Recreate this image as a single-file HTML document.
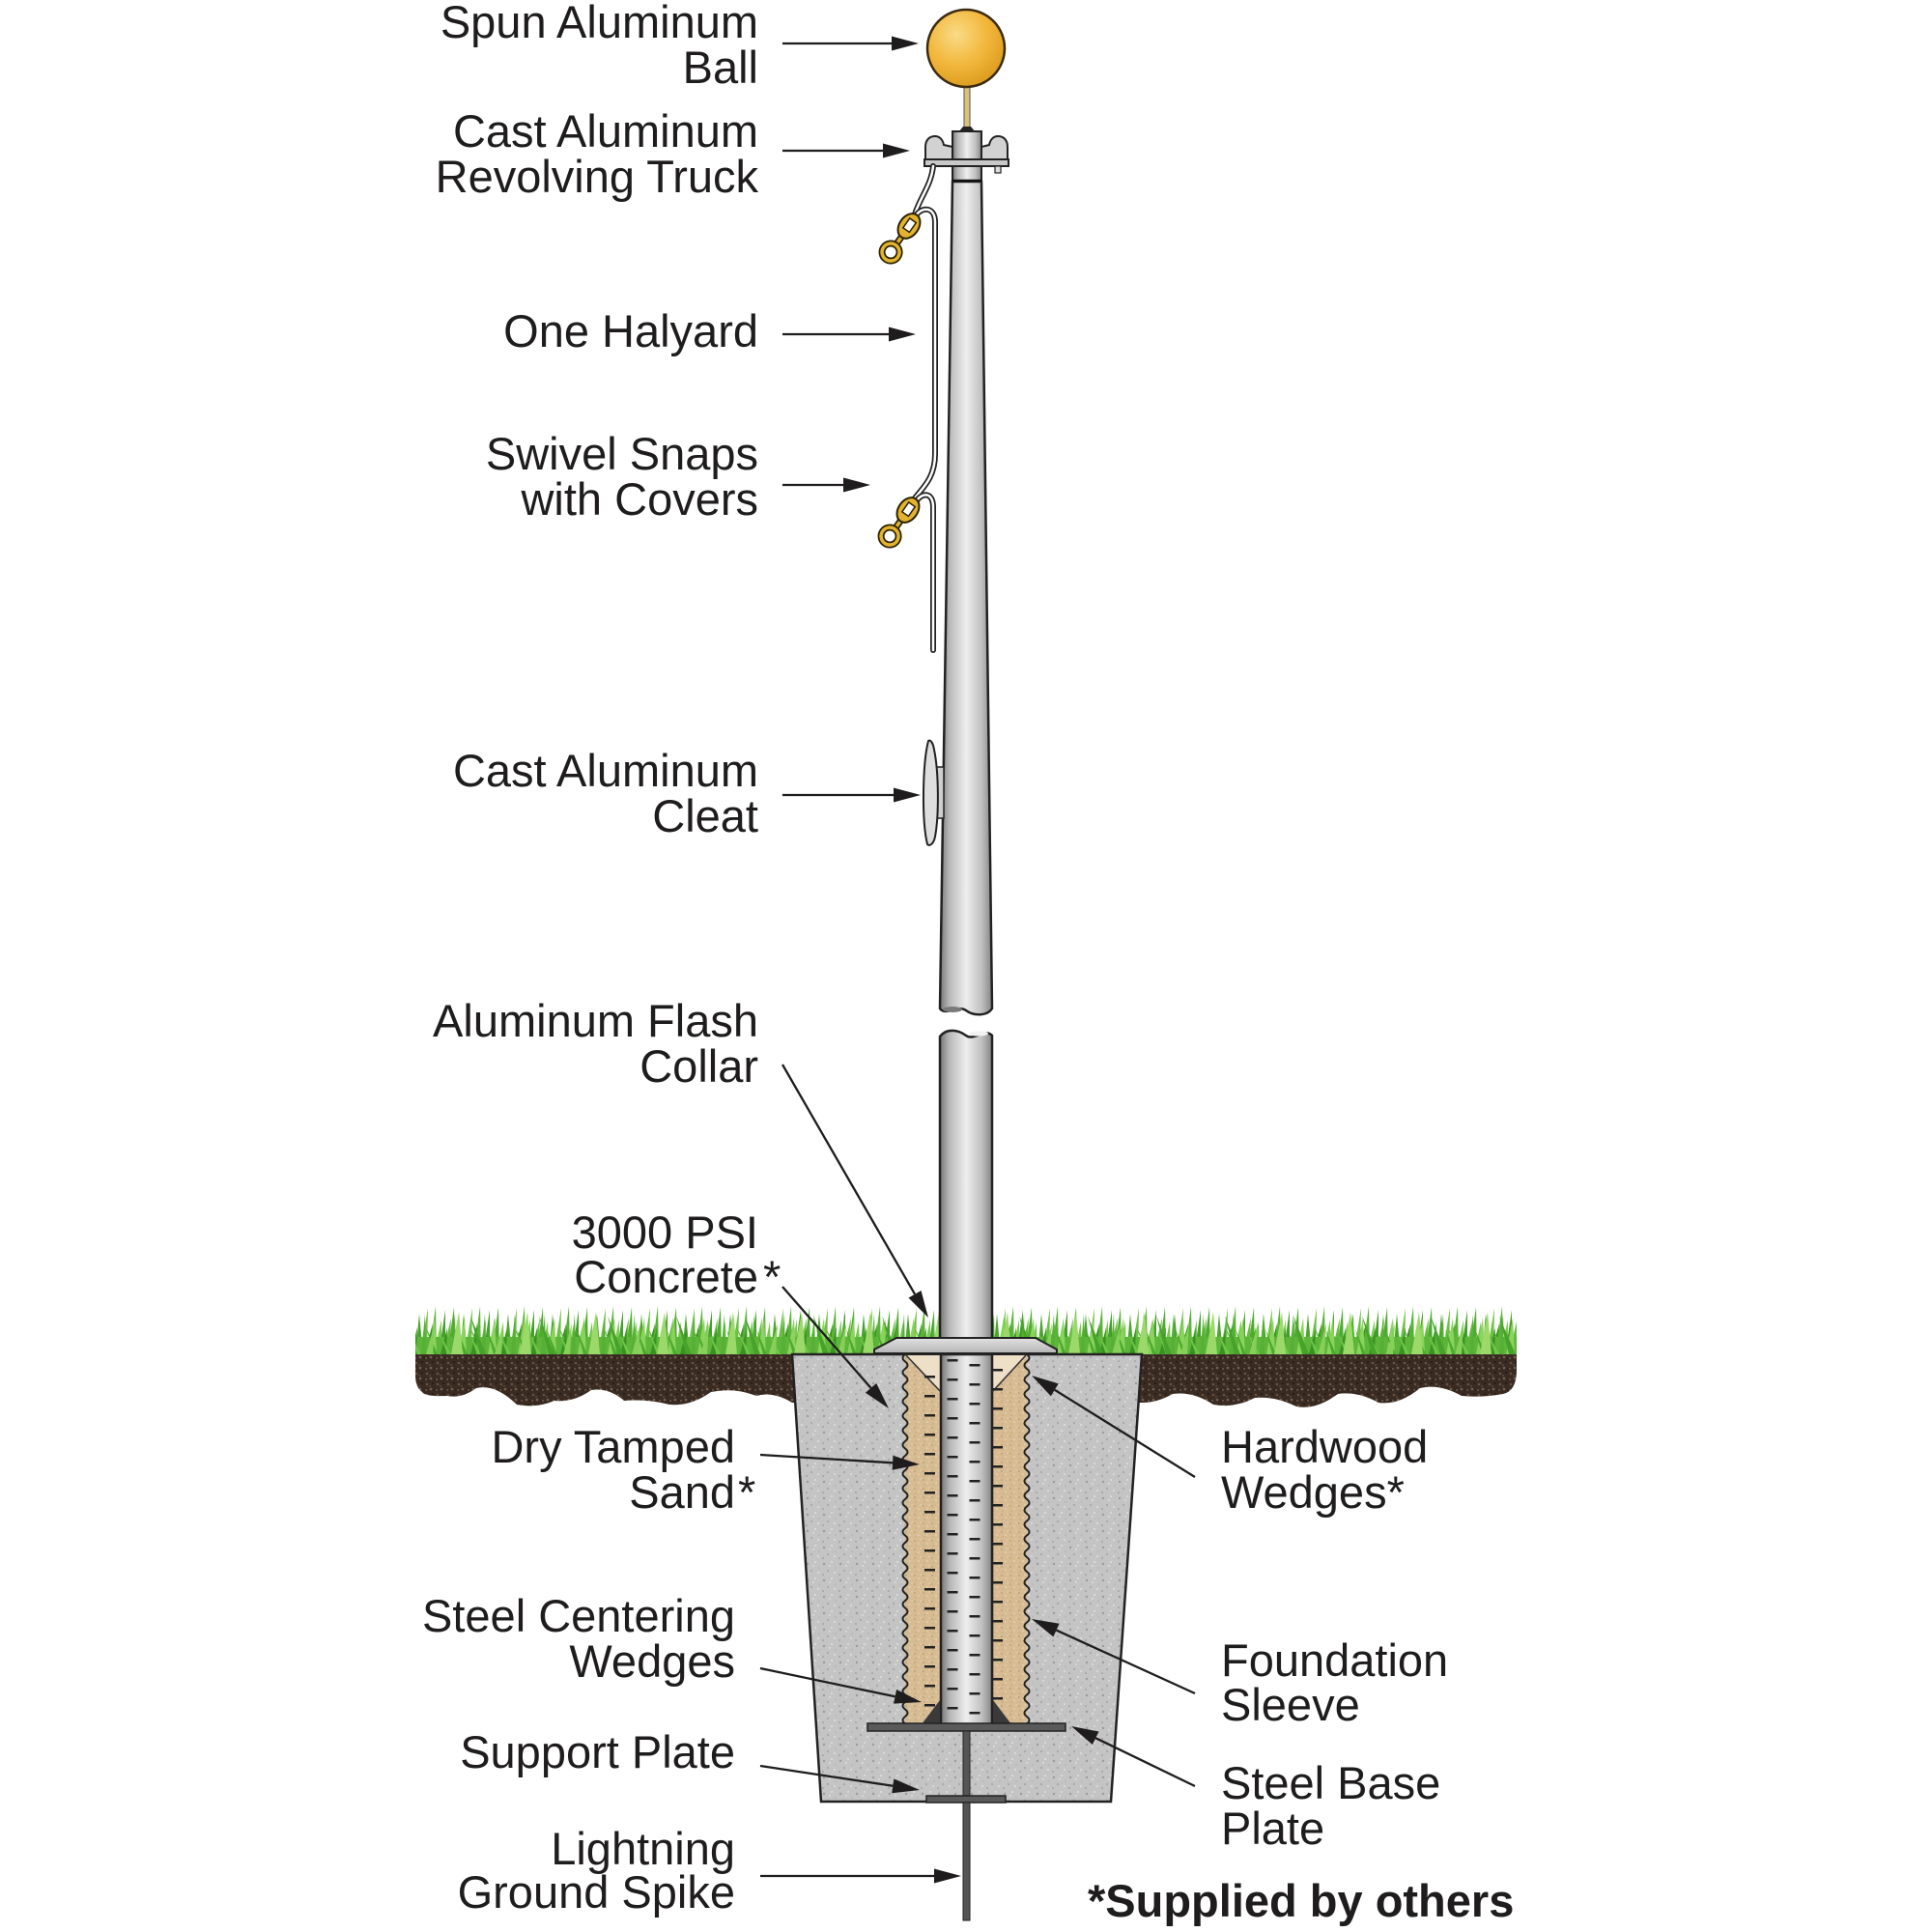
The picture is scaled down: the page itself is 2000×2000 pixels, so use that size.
<!DOCTYPE html>
<html><head><meta charset="utf-8">
<style>
html,body{margin:0;padding:0;background:#fff;}
svg{display:block;}
text{font-family:"Liberation Sans",Arial,sans-serif;font-size:47px;fill:#1e1c1c;}
</style></head><body>
<svg width="2000" height="2000" viewBox="0 0 2000 2000" xmlns="http://www.w3.org/2000/svg">
<defs>
 <linearGradient id="pg" x1="0" x2="1" y1="0" y2="0">
  <stop offset="0" stop-color="#767676"/>
  <stop offset="0.18" stop-color="#b8b8b8"/>
  <stop offset="0.5" stop-color="#eeeeee"/>
  <stop offset="0.8" stop-color="#c0c0c0"/>
  <stop offset="1" stop-color="#848484"/>
 </linearGradient>
 <linearGradient id="cg" x1="0" x2="0" y1="0" y2="1">
  <stop offset="0" stop-color="#e2e2e2"/>
  <stop offset="1" stop-color="#b4b4b4"/>
 </linearGradient>
 <radialGradient id="ball" cx="0.38" cy="0.32" r="0.7">
  <stop offset="0" stop-color="#fadb86"/>
  <stop offset="0.55" stop-color="#f2b83e"/>
  <stop offset="1" stop-color="#dc9d1e"/>
 </radialGradient>
 <pattern id="conc" patternUnits="userSpaceOnUse" width="17" height="17">
  <rect width="17" height="17" fill="#c4c4c4"/>
  <circle cx="3" cy="4" r="1.2" fill="#9c9c9c"/>
  <circle cx="11" cy="2" r="0.9" fill="#e8e8e8"/>
  <circle cx="7" cy="11" r="1.1" fill="#a8a8a8"/>
  <circle cx="14" cy="13" r="1" fill="#dedede"/>
  <circle cx="2" cy="15" r="0.8" fill="#8f8f8f"/>
  <circle cx="9" cy="6" r="0.7" fill="#f2f2f2"/>
  <circle cx="15" cy="8" r="0.8" fill="#b0b0b0"/>
 </pattern>
 <pattern id="soil" patternUnits="userSpaceOnUse" width="11" height="11">
  <rect width="11" height="11" fill="#3a2b22"/>
  <circle cx="2" cy="3" r="1.3" fill="#665243"/>
  <circle cx="8" cy="2" r="0.9" fill="#1d140e"/>
  <circle cx="6" cy="8" r="1.3" fill="#76624f"/>
  <circle cx="10" cy="9" r="0.8" fill="#22170f"/>
  <circle cx="1" cy="9" r="0.7" fill="#9a8672"/>
  <circle cx="5" cy="5" r="0.6" fill="#8b7762"/>
 </pattern>
 <pattern id="sand" patternUnits="userSpaceOnUse" width="9" height="9">
  <rect width="9" height="9" fill="#d6bb93"/>
  <circle cx="2" cy="2" r="0.9" fill="#bf9d70"/>
  <circle cx="6" cy="5" r="0.8" fill="#ecdcc2"/>
  <circle cx="3" cy="7" r="0.7" fill="#c4a478"/>
  <circle cx="8" cy="1" r="0.6" fill="#efe3cd"/>
 </pattern>
 <pattern id="grass1" patternUnits="userSpaceOnUse" x="430" y="1350" width="46" height="52">
  <polygon points="0,52 4,10 8,52" fill="#4aa52c"/>
  <polygon points="5,52 13,4 12,52" fill="#6cc144"/>
  <polygon points="9,52 18,20 16,52" fill="#3d8f25"/>
  <polygon points="14,52 21,2 22,52" fill="#58b336"/>
  <polygon points="19,52 27,16 27,52" fill="#7ccb52"/>
  <polygon points="24,52 31,6 31,52" fill="#43a02a"/>
  <polygon points="28,52 37,14 35,52" fill="#66bd40"/>
  <polygon points="33,52 40,3 41,52" fill="#4fab30"/>
  <polygon points="38,52 45,18 46,52" fill="#75c84c"/>
  <polygon points="20,52 10,22 24,52" fill="#5bb838"/>
  <polygon points="36,52 28,26 40,52" fill="#3f9a28"/>
  <rect x="0" y="34" width="46" height="18" fill="#5db53a"/>
 </pattern>
 <pattern id="grass2" patternUnits="userSpaceOnUse" x="441" y="1350" width="31" height="52">
  <polygon points="2,52 9,14 11,52" fill="#8ad35c"/>
  <polygon points="15,52 22,24 21,52" fill="#3a9224"/>
  <polygon points="22,52 14,30 26,52" fill="#6fc548"/>
  <polygon points="26,52 30,10 31,52" fill="#55b035"/>
  <polygon points="8,52 1,26 12,52" fill="#4caa2e"/>
 </pattern>
 <pattern id="grass3" patternUnits="userSpaceOnUse" x="457" y="1350" width="71" height="52">
  <polygon points="10,52 18,8 22,52" fill="#9bd96a"/>
  <polygon points="40,52 30,12 46,52" fill="#47a22b"/>
  <polygon points="55,52 64,20 62,52" fill="#86cf58"/>
 </pattern>
</defs>

<!-- soil -->
<path d="M430,1402 L1570,1402 L1570,1418 Q1570,1440 1556,1443 Q1535,1447 1513,1445 Q1490,1432 1470,1437 Q1448,1455 1427,1452 Q1405,1440 1385,1443 Q1362,1460 1342,1456 Q1320,1445 1299,1447 Q1278,1458 1256,1454 Q1235,1440 1214,1443 Q1198,1452 1182,1452 L820,1452 Q800,1440 783,1445 Q760,1436 736,1441 Q715,1456 693,1454 Q670,1448 646,1450 Q630,1436 612,1439 Q594,1452 574,1450 Q555,1458 535,1454 Q512,1432 493,1437 Q478,1448 463,1445 Q440,1446 437,1441 Q430,1436 430,1424 Z" fill="url(#soil)"/>
<!-- grass -->
<rect x="430" y="1350" width="1140" height="52" fill="url(#grass1)"/>
<rect x="430" y="1350" width="1140" height="52" fill="url(#grass2)"/>
<rect x="430" y="1350" width="1140" height="52" fill="url(#grass3)"/>

<!-- concrete -->
<polygon points="820,1402 1182,1402 1150,1865 850,1865" fill="url(#conc)" stroke="#222" stroke-width="2.5"/>

<!-- sand sleeve -->
<rect x="937" y="1403" width="126" height="382" fill="url(#sand)"/>
<polygon points="938,1403 974,1403 974,1441" fill="#eedfc7"/>
<polygon points="1062,1403 1027,1403 1027,1441" fill="#eedfc7"/>
<path d="M937,1402 q-5,3.75 0,7.5 t0,7.5 t0,7.5 t0,7.5 t0,7.5 t0,7.5 t0,7.5 t0,7.5 t0,7.5 t0,7.5 t0,7.5 t0,7.5 t0,7.5 t0,7.5 t0,7.5 t0,7.5 t0,7.5 t0,7.5 t0,7.5 t0,7.5 t0,7.5 t0,7.5 t0,7.5 t0,7.5 t0,7.5 t0,7.5 t0,7.5 t0,7.5 t0,7.5 t0,7.5 t0,7.5 t0,7.5 t0,7.5 t0,7.5 t0,7.5 t0,7.5 t0,7.5 t0,7.5 t0,7.5 t0,7.5 t0,7.5 t0,7.5 t0,7.5 t0,7.5 t0,7.5 t0,7.5 t0,7.5 t0,7.5 t0,7.5 t0,7.5 t0,7.5" fill="none" stroke="#222" stroke-width="2"/>
<path d="M1063,1402 q5,3.75 0,7.5 t0,7.5 t0,7.5 t0,7.5 t0,7.5 t0,7.5 t0,7.5 t0,7.5 t0,7.5 t0,7.5 t0,7.5 t0,7.5 t0,7.5 t0,7.5 t0,7.5 t0,7.5 t0,7.5 t0,7.5 t0,7.5 t0,7.5 t0,7.5 t0,7.5 t0,7.5 t0,7.5 t0,7.5 t0,7.5 t0,7.5 t0,7.5 t0,7.5 t0,7.5 t0,7.5 t0,7.5 t0,7.5 t0,7.5 t0,7.5 t0,7.5 t0,7.5 t0,7.5 t0,7.5 t0,7.5 t0,7.5 t0,7.5 t0,7.5 t0,7.5 t0,7.5 t0,7.5 t0,7.5 t0,7.5 t0,7.5 t0,7.5 t0,7.5" fill="none" stroke="#222" stroke-width="2"/>

<!-- pole in ground -->
<rect x="974" y="1402" width="53" height="383" fill="url(#pg)" stroke="#222" stroke-width="2.5"/>
<line x1="938" y1="1403" x2="974" y2="1441" stroke="#333" stroke-width="1.6"/>
<line x1="1062" y1="1403" x2="1027" y2="1441" stroke="#333" stroke-width="1.6"/>
<!-- dashes -->
<line x1="962.5" y1="1424" x2="962.5" y2="1782" stroke="#222" stroke-width="11" stroke-dasharray="2.5 17.5"/>
<line x1="986" y1="1407" x2="986" y2="1782" stroke="#222" stroke-width="11" stroke-dasharray="2.5 17.5"/>
<line x1="1009" y1="1412" x2="1009" y2="1782" stroke="#222" stroke-width="11" stroke-dasharray="2.5 17.5"/>
<line x1="1033" y1="1417" x2="1033" y2="1782" stroke="#222" stroke-width="10" stroke-dasharray="2.5 17.5"/>

<!-- centering wedges -->
<polygon points="954,1785 973,1785 973,1760" fill="#3a3a3a"/>
<polygon points="1028,1760 1028,1785 1047,1785" fill="#3a3a3a"/>
<!-- plates, stem, spike -->
<rect x="898" y="1784" width="205" height="8" fill="#5a5a5a" stroke="#222" stroke-width="1.5"/>
<rect x="997" y="1792" width="7" height="67" fill="#555" stroke="#222" stroke-width="1"/>
<rect x="959" y="1859" width="82" height="7" fill="#5a5a5a" stroke="#222" stroke-width="1.5"/>
<rect x="997" y="1866" width="7" height="122" fill="#555" stroke="#222" stroke-width="1"/>

<!-- lower pole above ground -->
<path d="M973,1073 C980,1064 992,1066 1000,1072 C1008,1078 1020,1064 1027,1072 L1027,1392 L973,1392 Z" fill="url(#pg)" stroke="#222" stroke-width="2.5"/>
<ellipse cx="1013" cy="1070" rx="10" ry="2.6" fill="#f2f2f2"/>
<!-- flash collar -->
<polygon points="905,1401 905,1397 928,1385 1072,1385 1094,1397 1094,1401" fill="url(#cg)" stroke="#222" stroke-width="2"/>

<!-- upper pole -->
<path d="M986,188 L1016,188 L1027,1044 C1022,1052 1008,1052 1000,1046 C992,1040 978,1052 973,1044 Z" fill="url(#pg)" stroke="#222" stroke-width="2.5"/>
<ellipse cx="986" cy="1045" rx="10" ry="3" fill="#7a7a7a"/>

<!-- cleat -->
<rect x="968" y="794" width="9" height="53" fill="#cfcfcf" stroke="#222" stroke-width="1.5"/>
<path d="M961,767 C955,790 954,850 960,874 C963,877 967,872 968,866 C972,845 972,800 967,776 C966,769 963,765 961,767 Z" fill="#dedede" stroke="#222" stroke-width="2"/>

<!-- ball and truck -->
<rect x="998" y="88" width="6" height="46" fill="#d9c27a" stroke="#555" stroke-width="1"/>
<circle cx="1000" cy="50" r="40" fill="url(#ball)" stroke="#3a2a10" stroke-width="2.5"/>
<polygon points="992,137 997,131 1005,131 1010,137" fill="#222"/>
<path d="M958,166 L958,152 C958,144 963,141 968,141 C973,141 976,145 977,150 L986,152 L1016,152 L1024,150 C1025,145 1028,141 1033,141 C1038,141 1043,144 1043,152 L1043,166 Z" fill="#d2d2d2" stroke="#222" stroke-width="2"/>
<rect x="986" y="136" width="30" height="52" fill="url(#pg)" stroke="#222" stroke-width="2"/>
<rect x="957" y="165" width="87" height="7" fill="#c8c8c8" stroke="#222" stroke-width="2"/>
<rect x="1030" y="172" width="6" height="7" fill="#ddd" stroke="#222" stroke-width="1.2"/>
<line x1="986" y1="187" x2="1016" y2="187" stroke="#111" stroke-width="2.5"/>

<!-- halyard ropes -->
<g fill="none" stroke-linecap="round">
 <path d="M966,172 C964,192 952,205 947,222" stroke="#222" stroke-width="6"/>
 <path d="M966,172 C964,192 952,205 947,222" stroke="#fff" stroke-width="2.5"/>
 <path d="M949,222 C955,214 968,214 968,230 L968,470 C968,495 955,505 946,517" stroke="#222" stroke-width="6"/>
 <path d="M949,222 C955,214 968,214 968,230 L968,470 C968,495 955,505 946,517" stroke="#fff" stroke-width="2.5"/>
 <path d="M948,520 C953,510 966,508 966,525 L966,673" stroke="#222" stroke-width="6"/>
 <path d="M948,520 C953,510 966,508 966,525 L966,673" stroke="#fff" stroke-width="2.5"/>
</g>
<!-- snaps -->
<g transform="translate(941,234) rotate(35)">
 <path d="M0,14 L0,24" stroke="#2a2200" stroke-width="7"/>
 <path d="M0,14 L0,24" stroke="#e3b22e" stroke-width="3.5"/>
 <circle cx="0" cy="33" r="9" fill="none" stroke="#2a2200" stroke-width="7"/>
 <circle cx="0" cy="33" r="9" fill="none" stroke="#e3b22e" stroke-width="3.5"/>
 <ellipse cx="0" cy="0" rx="10" ry="14" fill="#e3b22e" stroke="#2a2200" stroke-width="2"/>
 <rect x="-4" y="-7" width="8" height="12" fill="#fff" stroke="#2a2200" stroke-width="1.5"/>
</g>
<g transform="translate(940,528) rotate(35)">
 <path d="M0,14 L0,24" stroke="#2a2200" stroke-width="7"/>
 <path d="M0,14 L0,24" stroke="#e3b22e" stroke-width="3.5"/>
 <circle cx="0" cy="33" r="9" fill="none" stroke="#2a2200" stroke-width="7"/>
 <circle cx="0" cy="33" r="9" fill="none" stroke="#e3b22e" stroke-width="3.5"/>
 <ellipse cx="0" cy="0" rx="10" ry="14" fill="#e3b22e" stroke="#2a2200" stroke-width="2"/>
 <rect x="-4" y="-7" width="8" height="12" fill="#fff" stroke="#2a2200" stroke-width="1.5"/>
</g>

<!-- arrows -->
<g stroke="#1e1c1c" stroke-width="2.3" fill="none">
 <line x1="810" y1="45" x2="925" y2="45"/>
 <line x1="810" y1="156" x2="916" y2="156"/>
 <line x1="810" y1="346" x2="922" y2="346"/>
 <line x1="810" y1="502" x2="875" y2="502"/>
 <line x1="810" y1="823" x2="927" y2="823"/>
 <line x1="810" y1="1102" x2="947" y2="1339.7"/>
 <line x1="810" y1="1332" x2="901.6" y2="1436.9"/>
 <line x1="787" y1="1506" x2="924" y2="1514.3"/>
 <line x1="787" y1="1727" x2="926.6" y2="1756.3"/>
 <line x1="787" y1="1828" x2="924.3" y2="1848.8"/>
 <line x1="787" y1="1942" x2="969" y2="1942"/>
 <line x1="1237" y1="1529" x2="1091.8" y2="1438.8"/>
 <line x1="1237" y1="1753" x2="1093.5" y2="1687.6"/>
 <line x1="1237" y1="1849" x2="1134.2" y2="1799.2"/>
</g>
<g fill="#1e1c1c">
 <polygon points="951,45 923,37.5 923,52.5"/>
 <polygon points="942,156 914,148.5 914,163.5"/>
 <polygon points="948,346 920,338.5 920,353.5"/>
 <polygon points="901,502 873,494.5 873,509.5"/>
 <polygon points="953,823 925,815.5 925,830.5"/>
 <polygon points="961,1364 940.5,1343.5 953.5,1336"/>
 <polygon points="920,1458 895.9,1441.8 907.2,1432"/>
 <polygon points="952,1516 923.6,1521.8 924.5,1506.8"/>
 <polygon points="954,1762 925.1,1763.6 928.1,1749"/>
 <polygon points="952,1853 923.2,1856.2 925.4,1841.4"/>
 <polygon points="995,1942 967,1934.5 967,1949.5"/>
 <polygon points="1068,1424 1095.7,1432.4 1087.8,1445.2"/>
 <polygon points="1068,1676 1096.6,1680.8 1090.4,1694.4"/>
 <polygon points="1109,1787 1137.5,1792.5 1130.9,1806"/>
</g>

<!-- labels -->
<g text-anchor="end">
 <text x="785" y="39">Spun Aluminum</text>
 <text x="785" y="86">Ball</text>
 <text x="785" y="152">Cast Aluminum</text>
 <text x="785" y="199">Revolving Truck</text>
 <text x="785" y="359">One Halyard</text>
 <text x="785" y="486">Swivel Snaps</text>
 <text x="785" y="533">with Covers</text>
 <text x="785" y="814">Cast Aluminum</text>
 <text x="785" y="861">Cleat</text>
 <text x="785" y="1073">Aluminum Flash</text>
 <text x="785" y="1120">Collar</text>
 <text x="785" y="1292">3000 PSI</text>
 <text x="785" y="1338">Concrete</text>
 <text x="761" y="1514">Dry Tamped</text>
 <text x="761" y="1561">Sand</text>
 <text x="761" y="1689">Steel Centering</text>
 <text x="761" y="1736">Wedges</text>
 <text x="761" y="1830">Support Plate</text>
 <text x="761" y="1930">Lightning</text>
 <text x="761" y="1975">Ground Spike</text>
</g>
<text x="790" y="1338">*</text>
<text x="764" y="1561">*</text>
<text x="1264" y="1514">Hardwood</text>
<text x="1264" y="1561">Wedges*</text>
<text x="1264" y="1735">Foundation</text>
<text x="1264" y="1781">Sleeve</text>
<text x="1264" y="1862">Steel Base</text>
<text x="1264" y="1909">Plate</text>
<text x="1126" y="1984" font-weight="bold" font-size="47.5">*Supplied by others</text>
</svg>
</body></html>
